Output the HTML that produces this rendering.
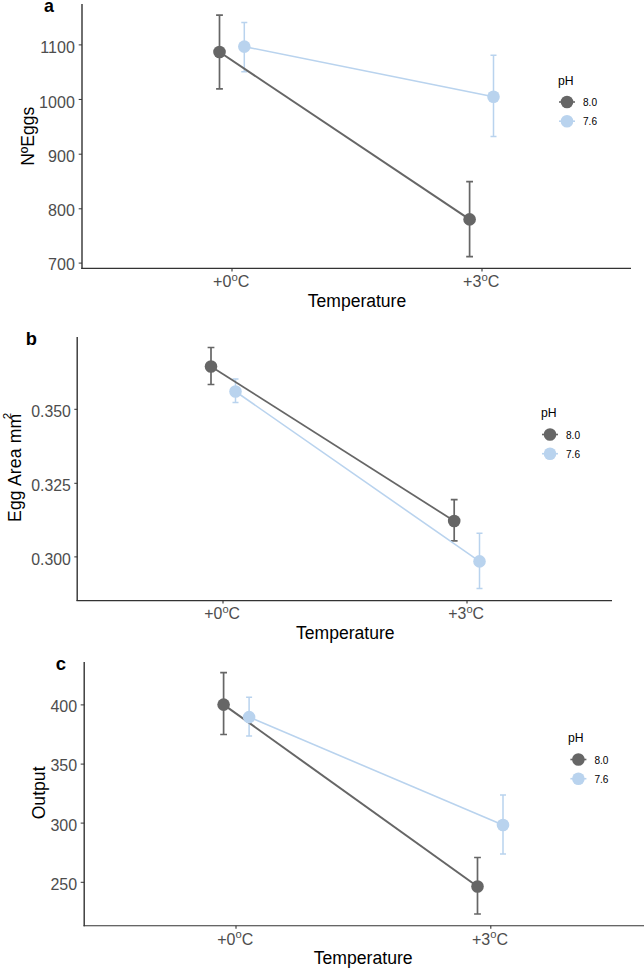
<!DOCTYPE html>
<html><head><meta charset="utf-8"><title>Figure</title>
<style>
html,body{margin:0;padding:0;background:#fff;}
body{width:644px;height:970px;overflow:hidden;font-family:"Liberation Sans",sans-serif;}
svg{display:block;font-family:"Liberation Sans",sans-serif;}
</style></head><body>
<svg width="644" height="970" viewBox="0 0 644 970">
<rect width="644" height="970" fill="#fff"/>
<g id="panel-a">
<path d="M82 4V268.9" fill="none" stroke="#333333" stroke-width="1.4"/>
<path d="M81.3 268.4H631" fill="none" stroke="#333333" stroke-width="1.1"/>
<path d="M78.7 44.9H82" stroke="#333333" stroke-width="1.0"/>
<text x="74.9" y="52.83" text-anchor="end" font-size="16.08" fill="#4d4d4d">1100</text>
<path d="M78.7 99.45H82" stroke="#333333" stroke-width="1.0"/>
<text x="74.9" y="107.63" text-anchor="end" font-size="16.08" fill="#4d4d4d">1000</text>
<path d="M78.7 154.2H82" stroke="#333333" stroke-width="1.0"/>
<text x="74.9" y="161.83" text-anchor="end" font-size="16.08" fill="#4d4d4d">900</text>
<path d="M78.7 208.8H82" stroke="#333333" stroke-width="1.0"/>
<text x="74.9" y="215.63" text-anchor="end" font-size="16.08" fill="#4d4d4d">800</text>
<path d="M78.7 263.1H82" stroke="#333333" stroke-width="1.0"/>
<text x="74.9" y="269.83" text-anchor="end" font-size="16.08" fill="#4d4d4d">700</text>
<path d="M232 268.4v3.0" stroke="#333333" stroke-width="1.1"/>
<text x="231.2" y="287.2" text-anchor="middle" font-size="16.08" fill="#4d4d4d">+0<tspan font-size="11.3" dy="-6.2">o</tspan><tspan dy="6.2">C</tspan></text>
<path d="M482 268.4v3.0" stroke="#333333" stroke-width="1.1"/>
<text x="481.2" y="287.2" text-anchor="middle" font-size="16.08" fill="#4d4d4d">+3<tspan font-size="11.3" dy="-6.2">o</tspan><tspan dy="6.2">C</tspan></text>
<text x="357" y="307" text-anchor="middle" font-size="17.54" fill="#000">Temperature</text>
<text transform="translate(33.6 136.3) rotate(-90)" text-anchor="middle" font-size="17.54" fill="#000">N&#186;Eggs</text>
<text x="44" y="12" font-size="17.8" font-weight="bold" fill="#000">a</text>
<path d="M241.3 22.5h6.0M241.3 71.7h6.0M244.3 22.5V71.7" stroke="#B9D3EE" stroke-width="1.5" fill="none"/>
<path d="M490.5 55.3h6.0M490.5 136.5h6.0M493.5 55.3V136.5" stroke="#B9D3EE" stroke-width="1.5" fill="none"/>
<path d="M216.1 15.2h6.8M216.1 88.8h6.8M219.5 15.2V88.8" stroke="#666666" stroke-width="1.7" fill="none"/>
<path d="M466.20000000000005 181.6h6.8M466.20000000000005 256.6h6.8M469.6 181.6V256.6" stroke="#666666" stroke-width="1.7" fill="none"/>
<path d="M244.3 46.6L493.5 96.7" stroke="#B9D3EE" stroke-width="1.6" fill="none"/>
<path d="M219.5 52L469.6 219.4" stroke="#666666" stroke-width="2.0" fill="none"/>
<circle cx="219.5" cy="52" r="6.3" fill="#666666"/>
<circle cx="469.6" cy="219.4" r="6.3" fill="#666666"/>
<circle cx="244.3" cy="46.6" r="6.3" fill="#B9D3EE"/>
<circle cx="493.5" cy="96.7" r="6.3" fill="#B9D3EE"/>
<text x="558" y="84.5" font-size="12.2" fill="#000">pH</text>
<path d="M559 102.0h16" stroke="#666666" stroke-width="1.6"/>
<circle cx="567" cy="102.0" r="6.3" fill="#666666"/>
<text x="583" y="106.0" font-size="10.1" fill="#000">8.0</text>
<path d="M559 121.2h16" stroke="#B9D3EE" stroke-width="1.6"/>
<circle cx="567" cy="121.2" r="6.3" fill="#B9D3EE"/>
<text x="583" y="125.2" font-size="10.1" fill="#000">7.6</text>
</g>
<g id="panel-b">
<path d="M77.2 337V601.1" fill="none" stroke="#333333" stroke-width="1.4"/>
<path d="M76.5 600.6H612" fill="none" stroke="#333333" stroke-width="1.1"/>
<path d="M74.3 409.3H77.2" stroke="#333333" stroke-width="1.0"/>
<text x="70.9" y="416.94" text-anchor="end" font-size="15.84" fill="#4d4d4d">0.350</text>
<path d="M74.3 483.3H77.2" stroke="#333333" stroke-width="1.0"/>
<text x="70.9" y="490.64" text-anchor="end" font-size="15.84" fill="#4d4d4d">0.325</text>
<path d="M74.3 556.9H77.2" stroke="#333333" stroke-width="1.0"/>
<text x="70.9" y="564.64" text-anchor="end" font-size="15.84" fill="#4d4d4d">0.300</text>
<path d="M223 600.6v3.0" stroke="#333333" stroke-width="1.1"/>
<text x="222.2" y="619.4" text-anchor="middle" font-size="15.84" fill="#4d4d4d">+0<tspan font-size="11.1" dy="-6.2">o</tspan><tspan dy="6.2">C</tspan></text>
<path d="M467 600.6v3.0" stroke="#333333" stroke-width="1.1"/>
<text x="466.2" y="619.4" text-anchor="middle" font-size="15.84" fill="#4d4d4d">+3<tspan font-size="11.1" dy="-6.2">o</tspan><tspan dy="6.2">C</tspan></text>
<text x="345.3" y="638.7" text-anchor="middle" font-size="17.57" fill="#000">Temperature</text>
<text transform="translate(21.0 467.9) rotate(-90)" text-anchor="middle" font-size="17.57" fill="#000" textLength="108.2" lengthAdjust="spacing">Egg Area mm</text>
<text x="25.8" y="345" font-size="18.3" font-weight="bold" fill="#000">b</text>
<path d="M232.5 379h6.0M232.5 402.5h6.0M235.5 379V402.5" stroke="#B9D3EE" stroke-width="1.5" fill="none"/>
<path d="M476.5 533.3h6.0M476.5 588.6h6.0M479.5 533.3V588.6" stroke="#B9D3EE" stroke-width="1.5" fill="none"/>
<path d="M207.6 347.5h6.8M207.6 384.5h6.8M211 347.5V384.5" stroke="#666666" stroke-width="1.7" fill="none"/>
<path d="M450.8 499.6h6.8M450.8 540.8h6.8M454.2 499.6V540.8" stroke="#666666" stroke-width="1.7" fill="none"/>
<path d="M235.5 391.5L479.5 561.4" stroke="#B9D3EE" stroke-width="1.6" fill="none"/>
<path d="M211 366.5L454.2 521" stroke="#666666" stroke-width="1.75" fill="none"/>
<circle cx="211" cy="366.5" r="6.3" fill="#666666"/>
<circle cx="454.2" cy="521" r="6.3" fill="#666666"/>
<circle cx="235.5" cy="391.5" r="6.3" fill="#B9D3EE"/>
<circle cx="479.5" cy="561.4" r="6.3" fill="#B9D3EE"/>
<text x="541" y="417" font-size="12.2" fill="#000">pH</text>
<path d="M542 434.5h16" stroke="#666666" stroke-width="1.6"/>
<circle cx="550" cy="434.5" r="6.3" fill="#666666"/>
<text x="566" y="439.1" font-size="10.1" fill="#000">8.0</text>
<path d="M542 453.7h16" stroke="#B9D3EE" stroke-width="1.6"/>
<circle cx="550" cy="453.7" r="6.3" fill="#B9D3EE"/>
<text x="566" y="458.3" font-size="10.1" fill="#000">7.6</text>
<text transform="translate(11.3 419.2) rotate(-90)" font-size="11.6" fill="#000">2</text>
</g>
<g id="panel-c">
<path d="M84.2 662V926.3" fill="none" stroke="#333333" stroke-width="1.4"/>
<path d="M83.5 925.8H644" fill="none" stroke="#333333" stroke-width="1.1"/>
<path d="M80.7 704.9H84.2" stroke="#333333" stroke-width="1.0"/>
<text x="77.10000000000001" y="712.0" text-anchor="end" font-size="16.0" fill="#4d4d4d">400</text>
<path d="M80.7 764.1H84.2" stroke="#333333" stroke-width="1.0"/>
<text x="77.10000000000001" y="771.3" text-anchor="end" font-size="16.0" fill="#4d4d4d">350</text>
<path d="M80.7 823.1H84.2" stroke="#333333" stroke-width="1.0"/>
<text x="77.10000000000001" y="830.5" text-anchor="end" font-size="16.0" fill="#4d4d4d">300</text>
<path d="M80.7 882.3H84.2" stroke="#333333" stroke-width="1.0"/>
<text x="77.10000000000001" y="889.7" text-anchor="end" font-size="16.0" fill="#4d4d4d">250</text>
<path d="M236 925.8v3.0" stroke="#333333" stroke-width="1.1"/>
<text x="235.2" y="944.5999999999999" text-anchor="middle" font-size="16.0" fill="#4d4d4d">+0<tspan font-size="11.2" dy="-6.2">o</tspan><tspan dy="6.2">C</tspan></text>
<path d="M490.8 925.8v3.0" stroke="#333333" stroke-width="1.1"/>
<text x="490.0" y="944.5999999999999" text-anchor="middle" font-size="16.0" fill="#4d4d4d">+3<tspan font-size="11.2" dy="-6.2">o</tspan><tspan dy="6.2">C</tspan></text>
<text x="363.2" y="963.8" text-anchor="middle" font-size="17.62" fill="#000">Temperature</text>
<text transform="translate(44.7 792.9) rotate(-90)" text-anchor="middle" font-size="17.62" fill="#000">Output</text>
<text x="55.7" y="669.8" font-size="18.5" font-weight="bold" fill="#000">c</text>
<path d="M246.1 697.3h6.0M246.1 736.1h6.0M249.1 697.3V736.1" stroke="#B9D3EE" stroke-width="1.5" fill="none"/>
<path d="M500.0 795h6.0M500.0 854h6.0M503 795V854" stroke="#B9D3EE" stroke-width="1.5" fill="none"/>
<path d="M220.2 672.7h6.8M220.2 734.5h6.8M223.6 672.7V734.5" stroke="#666666" stroke-width="1.7" fill="none"/>
<path d="M474.1 857.5h6.8M474.1 914h6.8M477.5 857.5V914" stroke="#666666" stroke-width="1.7" fill="none"/>
<path d="M249.1 717.1L503 825" stroke="#B9D3EE" stroke-width="1.6" fill="none"/>
<path d="M223.6 704.6L477.5 886.5" stroke="#666666" stroke-width="2.0" fill="none"/>
<circle cx="223.6" cy="704.6" r="6.3" fill="#666666"/>
<circle cx="477.5" cy="886.5" r="6.3" fill="#666666"/>
<circle cx="249.1" cy="717.1" r="6.3" fill="#B9D3EE"/>
<circle cx="503" cy="825" r="6.3" fill="#B9D3EE"/>
<text x="568" y="742" font-size="12.2" fill="#000">pH</text>
<path d="M570.4 759.5h16" stroke="#666666" stroke-width="1.6"/>
<circle cx="578.4" cy="759.5" r="6.3" fill="#666666"/>
<text x="594.4" y="763.5" font-size="10.1" fill="#000">8.0</text>
<path d="M570.4 778.7h16" stroke="#B9D3EE" stroke-width="1.6"/>
<circle cx="578.4" cy="778.7" r="6.3" fill="#B9D3EE"/>
<text x="594.4" y="782.7" font-size="10.1" fill="#000">7.6</text>
</g>
</svg>
</body></html>
